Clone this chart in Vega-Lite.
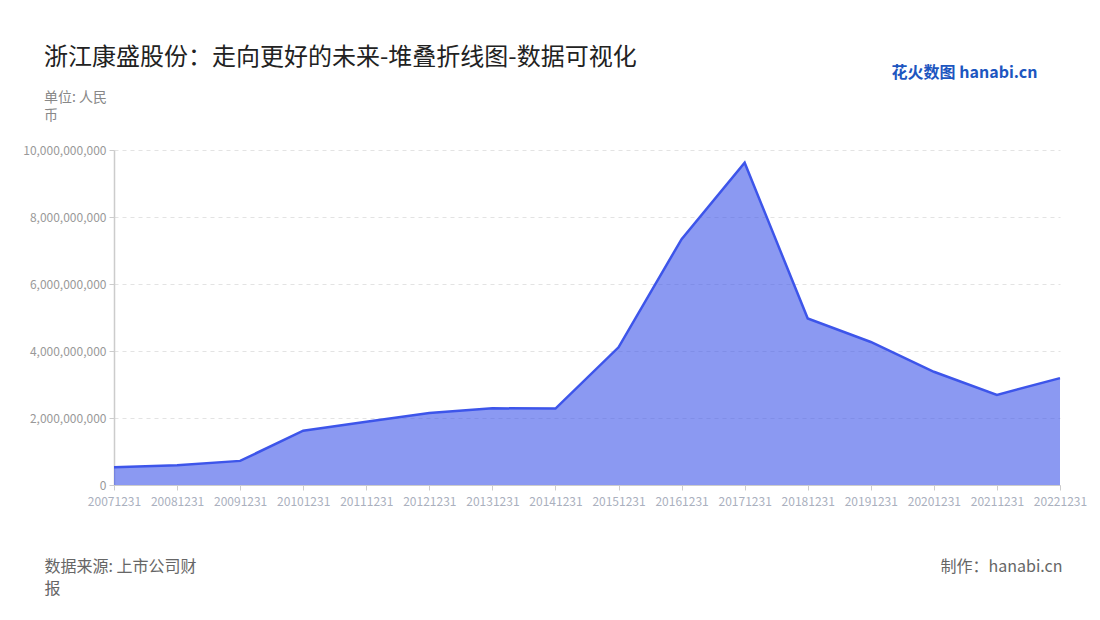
{
  "$schema": "https://vega.github.io/schema/vega-lite/v6.json",
  "width": 946,
  "height": 335,
  "autosize": {"type": "none"},
  "padding": {"left": 114, "top": 150, "right": 40, "bottom": 135},
  "background": "white",
  "config": {"font": "Noto Sans CJK SC", "view": {"stroke": null}},
  "title": {
    "text": "浙江康盛股份：走向更好的未来-堆叠折线图-数据可视化",
    "subtitle": ["单位: 人民", "币"],
    "anchor": "start",
    "frame": "group",
    "dx": -70,
    "offset": -59,
    "fontSize": 24,
    "fontWeight": "normal",
    "color": "#222222",
    "subtitleFontSize": 14,
    "subtitleColor": "#888888",
    "subtitlePadding": 21,
    "subtitleLineHeight": 18
  },
  "data": {
    "values": [
      {"date": "20071231", "value": 530000000},
      {"date": "20081231", "value": 590000000},
      {"date": "20091231", "value": 720000000},
      {"date": "20101231", "value": 1620000000},
      {"date": "20111231", "value": 1890000000},
      {"date": "20121231", "value": 2150000000},
      {"date": "20131231", "value": 2290000000},
      {"date": "20141231", "value": 2280000000},
      {"date": "20151231", "value": 4110000000},
      {"date": "20161231", "value": 7340000000},
      {"date": "20171231", "value": 9620000000},
      {"date": "20181231", "value": 4970000000},
      {"date": "20191231", "value": 4270000000},
      {"date": "20201231", "value": 3380000000},
      {"date": "20211231", "value": 2690000000},
      {"date": "20221231", "value": 3190000000}
    ]
  },
  "layer": [
    {
      "mark": {"type": "area", "color": "#3d55ea", "fillOpacity": 0.6},
      "encoding": {
        "x": {
          "field": "date",
          "type": "ordinal",
          "scale": {"type": "point", "padding": 0},
          "axis": {
            "orient": "bottom",
            "labelAngle": 0,
            "labelColor": "#aab0be",
            "labelFontSize": 12,
            "labelPadding": 6,
            "tickColor": "#cccccc",
            "tickSize": 5,
            "domainColor": "#cccccc",
            "grid": false,
            "title": ["数据来源: 上市公司财", "报"],
            "titleX": -70,
            "titleY": 73,
            "titleAlign": "left",
            "titleAnchor": "start",
            "titleBaseline": "top",
            "titleFontSize": 16,
            "titleFontWeight": "normal",
            "titleColor": "#666666",
            "titleLineHeight": 22
          }
        },
        "y": {
          "field": "value",
          "type": "quantitative",
          "title": "制作：hanabi.cn",
          "scale": {"domain": [0, 10000000000]},
          "axis": {
            "values": [0, 2000000000, 4000000000, 6000000000, 8000000000, 10000000000],
            "format": ",.0f",
            "labelColor": "#999999",
            "labelFontSize": 12,
            "labelPadding": 3,
            "tickColor": "#cccccc",
            "tickSize": 5,
            "domainColor": "#cccccc",
            "domainWidth": 1.5,
            "grid": true,
            "gridColor": "#e3e3e3",
            "gridDash": [4, 4],
            "titleAngle": 0,
            "titleX": 948,
            "titleY": 408,
            "titleAlign": "right",
            "titleBaseline": "top",
            "titleFontSize": 16,
            "titleFontWeight": "normal",
            "titleColor": "#666666"
          }
        }
      }
    },
    {
      "mark": {"type": "line", "color": "#3d55ea", "strokeWidth": 2.5},
      "encoding": {
        "x": {
          "field": "date",
          "type": "ordinal",
          "scale": {"type": "point", "padding": 0},
          "axis": {
            "orient": "top",
            "labels": false,
            "ticks": false,
            "domain": false,
            "grid": false,
            "title": "花火数图 hanabi.cn",
            "titleX": 923,
            "titleY": -78,
            "titleAlign": "right",
            "titleBaseline": "middle",
            "titleFontSize": 16,
            "titleFontWeight": "bold",
            "titleColor": "#1d56c0"
          }
        },
        "y": {"field": "value", "type": "quantitative", "title": "制作：hanabi.cn"}
      }
    }
  ],
  "resolve": {"axis": {"x": "independent"}}
}
